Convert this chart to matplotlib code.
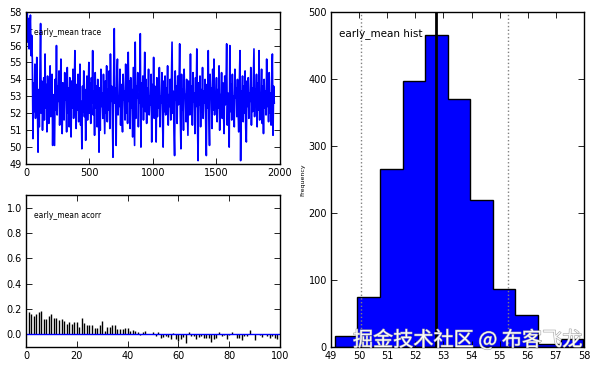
import numpy as np
import matplotlib
matplotlib.use("Agg")
import matplotlib.pyplot as plt
import matplotlib.patheffects as pe

# early_mean samples (one value every 5 iterations)
trace_step = 5
trace = [
    58.0, 57.1, 57.9, 56.2, 57.6, 55.8, 56.9, 57.8, 55.4, 56.6, 55.1, 50.5, 53.8, 52.1, 54.9, 51.7, 53.2, 55.3, 52.4, 49.7,
    53.4, 51.2, 54.6, 57.3, 52.0, 53.9, 51.0, 52.8, 54.1, 51.6, 55.5, 52.3, 53.7, 50.9, 54.2, 52.6, 51.4, 53.5, 54.8, 51.8,
    52.9, 54.3, 50.1, 53.1, 51.5, 50.1, 54.0, 52.2, 56.0, 51.9, 53.6, 52.7, 54.5, 51.3, 53.0, 55.2, 52.1, 50.8, 53.8, 52.5,
    51.6, 54.4, 52.8, 53.3, 50.9, 54.7, 52.0, 53.5, 51.2, 54.1, 52.6, 50.6, 53.9, 52.3, 54.6, 51.7, 53.2, 55.7, 52.4, 51.1,
    53.7, 52.2, 54.3, 51.5, 53.0, 54.9, 51.3, 52.7, 49.9, 53.6, 52.1, 54.5, 51.8, 53.4, 50.4, 52.9, 54.2, 51.6, 53.1, 55.0,
    52.0, 53.8, 51.4, 54.1, 52.6, 55.7, 51.9, 53.3, 50.7, 54.4, 52.3, 53.6, 51.2, 54.0, 52.8, 49.7, 53.5, 51.0, 54.6, 52.4,
    53.2, 51.7, 54.3, 52.5, 50.8, 53.9, 52.0, 54.8, 51.5, 53.4, 52.2, 54.5, 51.1, 55.5, 52.7, 53.6, 51.8, 49.4, 54.0, 57.0,
    52.6, 53.5, 50.1, 54.2, 55.2, 51.9, 53.0, 52.4, 54.6, 51.3, 53.7, 52.1, 50.9, 54.3, 52.8, 53.3, 51.6, 54.9, 52.0, 53.8,
    51.4, 55.6, 52.7, 53.9, 51.1, 54.1, 52.3, 53.4, 50.6, 54.7, 52.5, 50.1, 56.2, 51.7, 53.6, 52.9, 54.4, 51.2, 53.1, 52.6,
    56.7, 50.0, 53.8, 52.4, 54.2, 51.6, 53.3, 55.6, 52.1, 54.0, 51.4, 53.5, 52.8, 54.6, 51.9, 53.0, 52.5, 54.3, 50.3, 53.7,
    52.2, 55.3, 51.7, 53.6, 52.9, 50.3, 54.1, 51.8, 53.4, 52.3, 54.7, 51.2, 53.0, 52.6, 54.4, 51.5, 50.0, 53.9, 52.1, 54.2,
    51.9, 53.5, 52.7, 54.8, 51.3, 53.1, 52.4, 54.0, 51.6, 53.8, 56.2, 52.0, 53.3, 51.1, 49.5, 54.5, 52.8, 53.6, 51.4, 54.2,
    52.5, 53.7, 56.1, 51.8, 49.9, 54.3, 52.2, 53.4, 51.0, 54.6, 52.9, 53.1, 51.5, 54.0, 52.3, 50.7, 53.9, 52.6, 51.9, 55.5,
    52.0, 53.6, 51.3, 54.4, 52.7, 53.2, 50.8, 54.1, 52.4, 55.8, 51.6, 49.2, 53.8, 52.5, 54.2, 51.2, 53.4, 52.1, 54.7, 51.7,
    53.3, 52.6, 54.0, 51.4, 49.5, 53.7, 52.3, 55.7, 51.8, 50.1, 54.3, 52.9, 53.5, 51.1, 54.6, 52.2, 55.2, 51.9, 53.0, 52.7,
    54.1, 51.5, 53.4, 52.3, 54.8, 51.0, 53.1, 52.6, 54.4, 51.7, 53.8, 52.0, 50.8, 54.2, 52.5, 53.6, 56.1, 51.3, 53.2, 52.8,
    50.0, 56.0, 52.1, 53.7, 51.6, 54.3, 52.4, 53.0, 51.2, 54.6, 52.9, 53.5, 51.8, 54.0, 52.2, 50.9, 53.8, 55.7, 49.2, 53.3,
    52.6, 54.2, 51.5, 53.6, 52.0, 54.5, 51.1, 50.3, 53.9, 52.4, 54.1, 51.7, 53.2, 52.7, 54.7, 51.3, 53.5, 52.1, 54.0, 55.8,
    51.8, 53.4, 52.5, 54.3, 51.2, 53.8, 52.2, 55.7, 51.6, 53.1, 52.8, 54.6, 51.4, 53.6, 50.8, 54.0, 52.3, 53.3, 51.9, 55.2,
    52.4, 53.7, 51.5, 54.4, 52.0, 53.2, 51.3, 54.1, 55.5, 50.7, 53.6, 52.6,
]

# autocorrelation, lags 1..99
acorr = [
    0.179, 0.160, 0.147, 0.160, 0.173, 0.184, 0.120, 0.120, 0.144, 0.160,
    0.128, 0.128, 0.112, 0.120, 0.107, 0.080, 0.096, 0.085, 0.096, 0.100,
    0.056, 0.128, 0.090, 0.075, 0.075, 0.072, 0.053, 0.050, 0.077, 0.107,
    0.030, 0.056, 0.056, 0.072, 0.072, 0.043, 0.040, 0.040, 0.050, 0.050,
    0.030, 0.037, 0.024, 0.019, -0.008, 0.016, 0.027, 0.005, 0.005, 0.016,
    -0.016, 0.016, -0.032, -0.019, -0.010, -0.019, -0.040, 0.008, -0.037, -0.053,
    -0.037, -0.019, -0.067, 0.019, -0.013, -0.010, -0.040, -0.019, -0.010, -0.032,
    -0.032, -0.027, -0.059, -0.037, -0.032, 0.016, -0.010, -0.008, -0.037, -0.005,
    0.019, 0.005, -0.032, -0.032, -0.045, -0.010, -0.010, 0.032, 0.005, -0.045,
    0.005, -0.005, -0.019, 0.005, -0.010, -0.032, -0.010, -0.032, -0.037,
]

# histogram of the samples
hist_edges = [49.14, 49.94, 50.75, 51.55, 52.35, 53.16, 53.96, 54.76, 55.56, 56.37, 57.17, 57.97]
hist_counts = [17, 75, 265, 397, 465, 370, 219, 87, 48, 4, 12]
post_mean = 52.72
ci_low, ci_high = 50.05, 55.31

fig = plt.figure(figsize=(5.96, 3.68), dpi=100)
fig.patch.set_facecolor("white")

ax_tr = fig.add_axes([0.0436, 0.5543, 0.4262, 0.4139])
ax_ac = fig.add_axes([0.0436, 0.0571, 0.4262, 0.413])
ax_h = fig.add_axes([0.5554, 0.0571, 0.4245, 0.9103])

for ax in (ax_tr, ax_ac, ax_h):
    ax.tick_params(direction="in", top=True, right=True, length=4, width=0.6,
                   labelsize=7, pad=3)
    for s in ax.spines.values():
        s.set_linewidth(1.0)

# trace
iters = np.arange(len(trace)) * trace_step
ax_tr.plot(iters, trace, color="b", lw=1.2)
ax_tr.set_xlim(0, 2000)
ax_tr.set_ylim(49, 58)
ax_tr.set_xticks([0, 500, 1000, 1500, 2000])
ax_tr.set_yticks(range(49, 59))
ax_tr.text(0.03, 0.866, "early_mean trace", transform=ax_tr.transAxes,
           fontsize=5.5, va="center")

# autocorrelation
lags = np.arange(1, len(acorr) + 1)
ax_ac.vlines(lags, 0, acorr, color="k", lw=1.0)
ax_ac.axhline(0, color="b", lw=1.0)
ax_ac.set_xlim(0, 100)
ax_ac.set_ylim(-0.1, 1.1)
ax_ac.set_xticks(range(0, 101, 20))
ax_ac.set_yticks([0.0, 0.2, 0.4, 0.6, 0.8, 1.0])
ax_ac.text(0.03, 0.864, "early_mean acorr", transform=ax_ac.transAxes,
           fontsize=5.5, va="center")

# histogram
ax_h.hist(hist_edges[:-1], bins=hist_edges, weights=hist_counts,
          histtype="stepfilled", facecolor="b", edgecolor="k", lw=1.0)
ax_h.axvline(post_mean, color="k", lw=2)
ax_h.axvline(ci_low, color="0.5", ls=":", lw=1)
ax_h.axvline(ci_high, color="0.5", ls=":", lw=1)
ax_h.set_xlim(49, 58)
ax_h.set_ylim(0, 500)
ax_h.set_xticks(range(49, 59))
ax_h.set_yticks(range(0, 501, 100))
ax_h.set_ylabel("Frequency", fontsize=4.5, labelpad=2)
ax_h.text(0.03, 0.935, "early_mean hist", transform=ax_h.transAxes,
          fontsize=7.5, va="center")

# site watermark
fig.text(0.7845, 0.075, "掘金技术社区 @ 布客飞龙", fontsize=14.5, color="white",
         alpha=0.9, ha="center", va="center",
         family=["Noto Sans CJK SC", "DejaVu Sans"],
         path_effects=[pe.withStroke(linewidth=0.8, foreground="0.6")])

fig.savefig("out.png", dpi=100, facecolor="white")
